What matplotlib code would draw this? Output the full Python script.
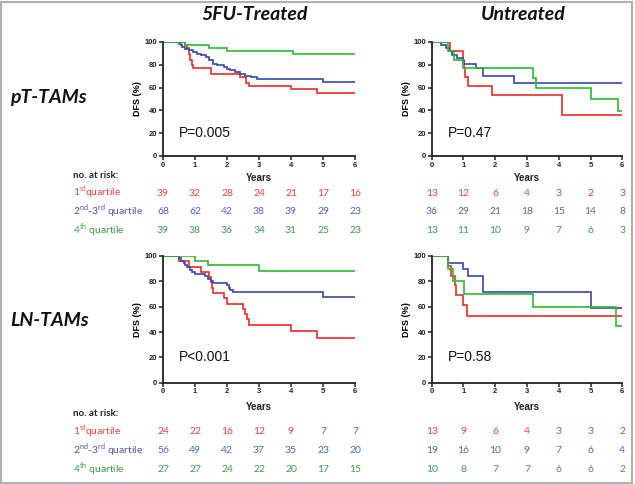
import numpy as np
import matplotlib
matplotlib.use('Agg')
import matplotlib.pyplot as plt
import matplotlib.transforms as mtransforms
from matplotlib.patches import Rectangle

plt.rcParams['font.family'] = ['Liberation Sans', 'DejaVu Sans']
plt.rcParams['mathtext.fontset'] = 'custom'
plt.rcParams['mathtext.rm'] = 'Lato'

# ---- data: Kaplan-Meier steps (event time in years, DFS % after the step) ----
# 5FU-treated, pT-TAMs
t5_pt_red = [0.70, 0.75, 0.80, 0.85, 0.90, 0.95, 1.5, 2.4, 2.6, 2.7, 4.0, 4.8]
s5_pt_red = [97.4, 94.9, 89.7, 84.6, 79.5, 76.9, 71.8, 69.2, 64.1, 61.5, 58.5, 55.5]
t5_pt_blue = [0.5, 0.55, 0.6, 0.7, 0.8, 0.95, 1.05, 1.2, 1.35, 1.45, 1.55, 1.7, 1.9,
              2.0, 2.1, 2.25, 2.4, 2.55, 2.75, 2.95, 5.0]
s5_pt_blue = [98.5, 97.1, 95.6, 94.1, 92.6, 91.2, 89.7, 88.2, 86.8, 83.8, 80.9, 79.4,
              77.9, 76.5, 75.0, 73.5, 72.1, 70.6, 69.1, 67.6, 64.7]
t5_pt_green = [0.7, 1.45, 2.0, 4.05]
s5_pt_green = [97.4, 94.9, 92.3, 89.7]

# untreated, pT-TAMs
tu_pt_red = [0.58, 1.0, 1.02, 1.05, 1.15, 1.9, 4.1]
su_pt_red = [92.3, 84.6, 76.9, 69.2, 61.5, 53.8, 35.9]
tu_pt_blue = [0.3, 0.45, 0.55, 0.65, 0.8, 1.0, 1.02, 1.4, 1.6, 2.6]
su_pt_blue = [97.2, 94.4, 91.7, 88.9, 86.1, 83.3, 80.6, 77.5, 70.4, 63.8]
tu_pt_green = [0.5, 0.7, 1.0, 3.2, 3.28, 5.0, 5.85]
su_pt_green = [92.3, 84.6, 76.9, 68.4, 59.8, 49.8, 39.9]

# 5FU-treated, LN-TAMs
t5_ln_red = [0.5, 0.8, 1.2, 1.45, 1.5, 1.52, 1.55, 1.9, 2.0, 2.5, 2.55, 2.62, 2.7, 4.0, 4.8]
s5_ln_red = [95.8, 91.7, 87.5, 83.3, 79.2, 75.0, 70.8, 66.7, 62.5, 58.3, 54.2, 50.0,
             45.8, 41.0, 35.0]
t5_ln_blue = [0.5, 0.55, 0.65, 0.7, 0.75, 0.85, 0.9, 1.0, 1.3, 1.4, 1.5, 1.55, 2.0,
              2.05, 2.1, 2.2, 5.0]
s5_ln_blue = [98.2, 96.4, 94.6, 92.9, 91.1, 89.3, 87.5, 85.7, 83.9, 82.1, 80.4, 78.6,
              76.8, 75.0, 73.2, 71.4, 68.0]
t5_ln_green = [1.0, 1.4, 3.0]
s5_ln_green = [96.3, 92.6, 88.5]

# untreated, LN-TAMs
tu_ln_red = [0.5, 0.6, 0.72, 0.78, 1.0, 1.1]
su_ln_red = [92.3, 84.6, 76.9, 69.2, 61.5, 52.7]
tu_ln_blue = [0.5, 1.0, 1.15, 1.6, 5.0]
su_ln_blue = [94.7, 89.5, 84.2, 71.2, 59.3]
tu_ln_green = [0.5, 0.68, 1.02, 3.2, 5.8]
su_ln_green = [90.0, 80.0, 70.0, 60.0, 45.0]

# numbers at risk (years 0..6)
years = [0, 1, 2, 3, 4, 5, 6]
risk_5_pt = [[39, 32, 28, 24, 21, 17, 16], [68, 62, 42, 38, 39, 29, 23], [39, 38, 36, 34, 31, 25, 23]]
risk_u_pt = [[13, 12, 6, 4, 3, 2, 3], [36, 29, 21, 18, 15, 14, 8], [13, 11, 10, 9, 7, 6, 3]]
risk_5_ln = [[24, 22, 16, 12, 9, 7, 7], [56, 49, 42, 37, 35, 23, 20], [27, 27, 24, 22, 20, 17, 15]]
risk_u_ln = [[13, 9, 6, 4, 3, 3, 2], [19, 16, 10, 9, 7, 6, 4], [10, 8, 7, 7, 6, 6, 2]]
p_values = ['P=0.005', 'P=0.47', 'P<0.001', 'P=0.58']
group_labels = ['1$^{\\mathregular{st}}$quartile',
                '2$^{\\mathregular{nd}}$-3$^{\\mathregular{rd}}$ quartile',
                '4$^{\\mathregular{th}}$ quartile']

line_colors = ['#ee2a2a', '#3847ad', '#2fba2f']
text_colors = ['#e8423f', '#4a6cb3', '#3c9f4b']
label_colors = ['#e8423f', '#4f55a3', '#3c9f4b']

W, H = 635, 484
fig = plt.figure(figsize=(W / 100, H / 100), dpi=100)


def fx(px):
    return px / W


def fy(py):
    return 1 - py / H


def km(ax, t, s, c):
    xs = [0] + list(t) + [6]
    ys = [100] + list(s) + [s[-1]]
    ax.step(xs, ys, where='post', color=c, lw=1.2, solid_joinstyle='miter')


panels = [
    (163, 355, 42, 156, [(t5_pt_red, s5_pt_red), (t5_pt_blue, s5_pt_blue), (t5_pt_green, s5_pt_green)], p_values[0], risk_5_pt, 175),
    (431.7, 622.3, 42, 156, [(tu_pt_red, su_pt_red), (tu_pt_blue, su_pt_blue), (tu_pt_green, su_pt_green)], p_values[1], risk_u_pt, 175),
    (163, 355, 256, 382.7, [(t5_ln_red, s5_ln_red), (t5_ln_blue, s5_ln_blue), (t5_ln_green, s5_ln_green)], p_values[2], risk_5_ln, 414),
    (431.7, 622.3, 256, 382.7, [(tu_ln_red, su_ln_red), (tu_ln_blue, su_ln_blue), (tu_ln_green, su_ln_green)], p_values[3], risk_u_ln, 414),
]

for i, (x0, x1, y0, y1, curves, ptxt, risk, risk_y) in enumerate(panels):
    ax = fig.add_axes([fx(x0), fy(y1), (x1 - x0) / W, (y1 - y0) / H])
    for (t, s), c in zip(curves, line_colors):
        km(ax, t, s, c)
    ax.set_xlim(0, 6)
    ax.set_ylim(0, 100)
    ax.set_xticks(years)
    ax.set_yticks([0, 20, 40, 60, 80, 100])
    for sp in ['top', 'right']:
        ax.spines[sp].set_visible(False)
    for sp in ['left', 'bottom']:
        ax.spines[sp].set_linewidth(1.3)
        ax.spines[sp].set_color('#222222')
    ax.tick_params(length=3, width=1.1, pad=1, labelsize=5.5, colors='#222222')
    for lab in ax.get_xticklabels() + ax.get_yticklabels():
        lab.set_fontweight('bold')
    ax.set_ylabel('DFS (%)', fontsize=6.5, fontweight='bold', labelpad=2)
    ax.text(0.5, 20, ptxt, fontsize=10, va='center', ha='left', color='#111111')
    ax.patch.set_alpha(0)

    # Years label
    fig.text(fx((x0 + x1) / 2), fy(risk_y + 3 if i < 2 else 407), 'Years',
             fontsize=7, fontweight='bold', ha='center', va='center', color='#222222')

    # numbers at risk under each x tick
    trans = mtransforms.blended_transform_factory(ax.transData, fig.transFigure)
    for r, (row, c) in enumerate(zip(risk, text_colors)):
        yy = fy(risk_y + 18 + r * 18.8)
        for yr, n in zip(years, row):
            ax.text(yr, yy, str(n), transform=trans, ha='center', va='center',
                    fontsize=7.5, color=c, family='Lato')

    if i % 2 == 0:
        fig.text(fx(73), fy(risk_y), 'no. at risk:', fontsize=7, fontweight='bold',
                 family='Lato', ha='left', va='center', color='#222222')
        for r, (lab, c) in enumerate(zip(group_labels, label_colors)):
            fig.text(fx(73), fy(risk_y + 18 + r * 18.8), lab, fontsize=7.5,
                     family='Lato', ha='left', va='center', color=c)

# column titles and row labels
fig.text(fx(255), fy(15), '5FU-Treated', fontsize=14, fontweight='bold', style='italic',
         family='Lato', ha='center', va='center', color='#111111')
fig.text(fx(523), fy(15), 'Untreated', fontsize=14, fontweight='bold', style='italic',
         family='Lato', ha='center', va='center', color='#111111')
fig.text(fx(10), fy(97), 'pT-TAMs', fontsize=14, fontweight='bold', style='italic',
         family='Lato', ha='left', va='center', color='#111111')
fig.text(fx(10), fy(320), 'LN-TAMs', fontsize=14, fontweight='bold', style='italic',
         family='Lato', ha='left', va='center', color='#111111')

fig.patches.append(Rectangle((0.002, 0.003), 0.994, 0.993, transform=fig.transFigure,
                             fill=False, ec='#b0b0b0', lw=1.5))

fig.savefig('out.png', dpi=100)
